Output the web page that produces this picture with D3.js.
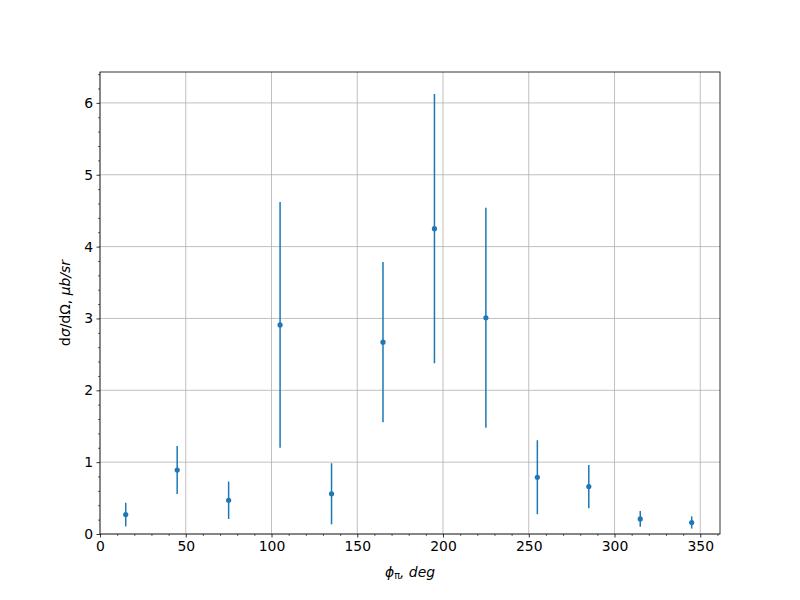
<!DOCTYPE html>
<html><head><meta charset="utf-8">
<script src="https://cdn.jsdelivr.net/npm/d3@7"></script>
<style>body{margin:0;background:#fff}</style>
</head><body>
<script>
const phi = [15, 45, 75, 105, 135, 165, 195, 225, 255, 285, 315, 345];
const xsec = [0.27, 0.89, 0.47, 2.91, 0.56, 2.67, 4.25, 3.01, 0.79, 0.66, 0.21, 0.16];
const err = [0.165, 0.335, 0.26, 1.71, 0.425, 1.115, 1.875, 1.53, 0.515, 0.30, 0.11, 0.085];
const xTicks = [0, 50, 100, 150, 200, 250, 300, 350];
const yTicks = [0, 1, 2, 3, 4, 5, 6];

const W = 800, H = 600;
const m = {left: 100, right: 720, top: 72, bottom: 534};
const svg = d3.select("body").append("svg").attr("width", W).attr("height", H)
  .style("font-family", "DejaVu Sans");
const x = d3.scaleLinear().domain([0, 361.5]).range([m.left, m.right]);
const y = d3.scaleLinear().domain([0, 6.43]).range([m.bottom, m.top]);

// grid
const g = svg.append("g");
g.selectAll(".gx").data(xTicks).enter().append("line")
  .attr("x1", d => x(d)).attr("x2", d => x(d)).attr("y1", m.top).attr("y2", m.bottom)
  .attr("stroke", "#b0b0b0").attr("stroke-width", 0.8);
g.selectAll(".gy").data(yTicks).enter().append("line")
  .attr("y1", d => y(d)).attr("y2", d => y(d)).attr("x1", m.left).attr("x2", m.right)
  .attr("stroke", "#b0b0b0").attr("stroke-width", 0.8);

// axes
const xAxis = d3.axisBottom(x).tickValues(xTicks).tickSize(3.5).tickPadding(3.5).tickFormat(d3.format("d"));
const yAxis = d3.axisLeft(y).tickValues(yTicks).tickSize(3.5).tickPadding(3.5).tickFormat(d3.format("d"));
const xMinor = d3.range(0, 361, 10).filter(v => v % 50 !== 0);
const yMinor = d3.range(0, 6.41, 0.2).filter(v => Math.abs(v - Math.round(v)) > 1e-6);
svg.append("g").attr("transform", `translate(0,${m.bottom})`)
  .call(d3.axisBottom(x).tickValues(xMinor).tickSize(2).tickFormat(""))
  .call(s => s.select(".domain").remove())
  .selectAll("line").attr("stroke", "#000").attr("stroke-width", 0.6);
svg.append("g").attr("transform", `translate(${m.left},0)`)
  .call(d3.axisLeft(y).tickValues(yMinor).tickSize(2).tickFormat(""))
  .call(s => s.select(".domain").remove())
  .selectAll("line").attr("stroke", "#000").attr("stroke-width", 0.6);
const gx = svg.append("g").attr("transform", `translate(0,${m.bottom})`).call(xAxis);
const gy = svg.append("g").attr("transform", `translate(${m.left},0)`).call(yAxis);
[gx, gy].forEach(a => {
  a.select(".domain").remove();
  a.selectAll("line").attr("stroke", "#000").attr("stroke-width", 0.8);
  a.selectAll("text").attr("font-size", "13.9px").attr("fill", "#000").attr("font-family", "DejaVu Sans");
});

// frame
svg.append("rect").attr("x", m.left).attr("y", m.top).attr("width", m.right - m.left)
  .attr("height", m.bottom - m.top).attr("fill", "none").attr("stroke", "#000").attr("stroke-width", 0.8);

// error bars
const c = "#1f77b4";
svg.append("g").selectAll("line").data(phi).enter().append("line")
  .attr("x1", (d) => x(d)).attr("x2", (d) => x(d))
  .attr("y1", (d, i) => y(xsec[i] - err[i])).attr("y2", (d, i) => y(xsec[i] + err[i]))
  .attr("stroke", c).attr("stroke-width", 1.5);
svg.append("g").selectAll("circle").data(phi).enter().append("circle")
  .attr("cx", d => x(d)).attr("cy", (d, i) => y(xsec[i])).attr("r", 2.6).attr("fill", c);

// labels
const xl = svg.append("text").attr("x", (m.left + m.right) / 2).attr("y", 577)
  .attr("text-anchor", "middle").attr("font-size", "13.9px").attr("font-style", "italic");
xl.append("tspan").text("ϕ");
xl.append("tspan").attr("font-size", "9.7px").attr("font-style", "normal").attr("dy", 2).text("π");
xl.append("tspan").attr("dy", -2).text(", deg");

const yl = svg.append("text").attr("transform", `translate(70,${(m.top + m.bottom) / 2}) rotate(-90)`)
  .attr("text-anchor", "middle").attr("font-size", "13.9px");
yl.append("tspan").text("d");
yl.append("tspan").attr("font-style", "italic").text("σ");
yl.append("tspan").text("/dΩ, ");
yl.append("tspan").attr("font-style", "italic").text("μb/sr");
</script>
</body></html>
